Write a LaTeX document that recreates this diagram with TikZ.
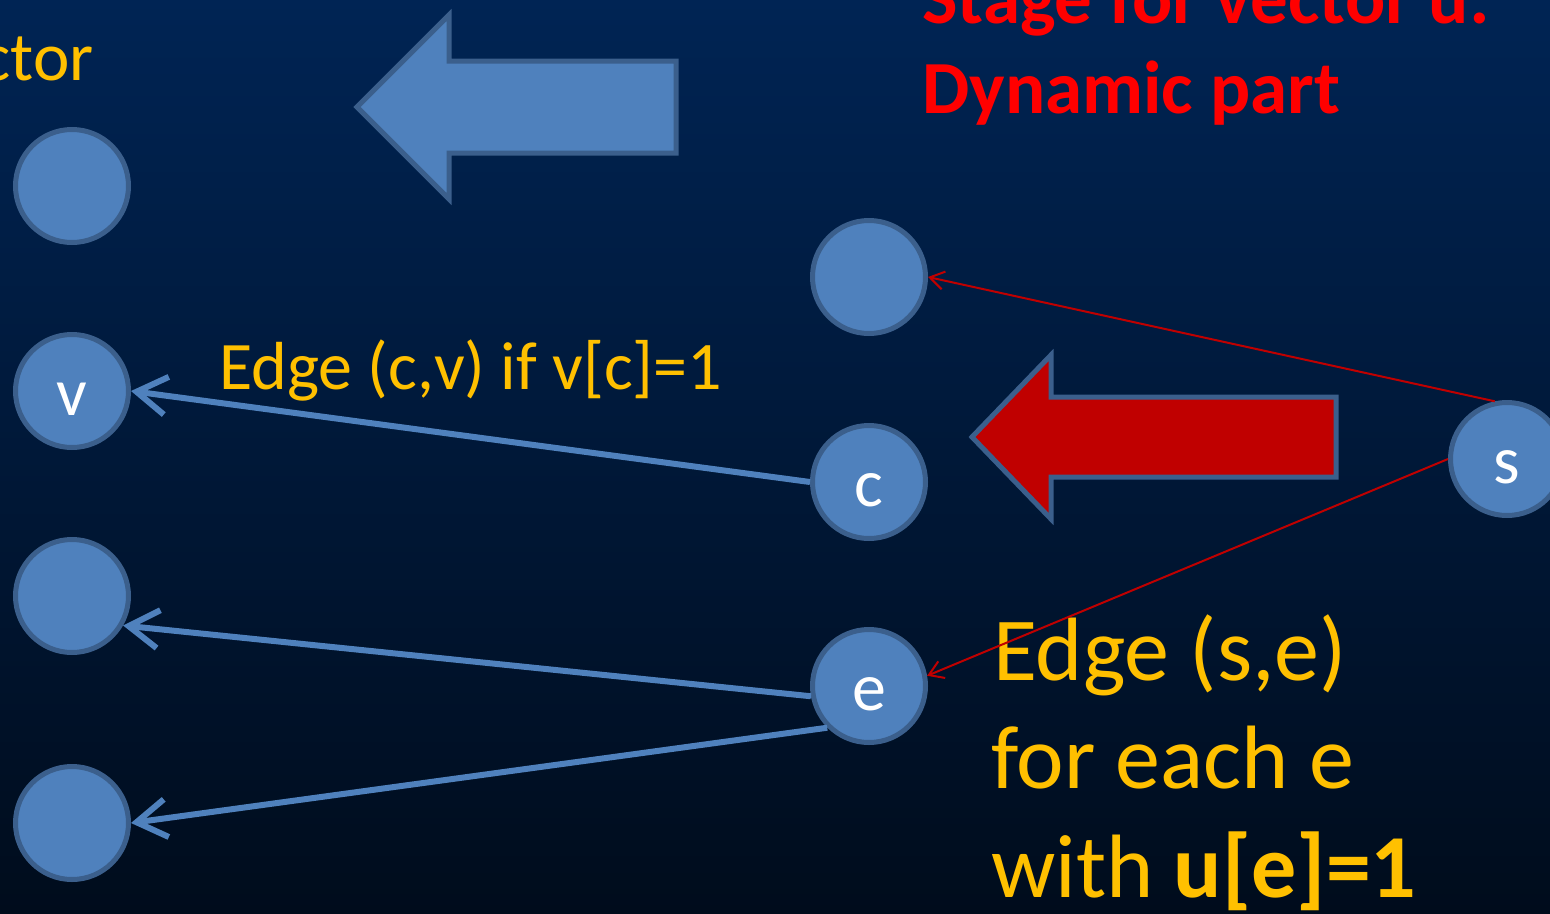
\documentclass[tikz,border=0pt]{standalone}
\usepackage{fontspec}
\setmainfont{Carlito}
\usetikzlibrary{arrows.meta}
\definecolor{bgtop}{HTML}{002454}
\definecolor{bgmid}{HTML}{001A3C}
\definecolor{bgbot}{HTML}{000C1C}
\definecolor{nodefill}{HTML}{4F81BD}
\definecolor{nodeline}{HTML}{3B5F8C}
\definecolor{darkred}{HTML}{C00000}
\definecolor{gold}{HTML}{FFC000}
\tikzset{
  vert/.style={circle, fill=nodefill, draw=nodeline, line width=5pt,
    minimum size=113pt, inner sep=0pt, text=white,
    font=\fontsize{68}{80}\selectfont, text height=48pt, text depth=0pt},
  blueedge/.style={draw=nodefill, line width=6pt,
    -{Straight Barb[length=30pt,width=38pt]}},
  rededge/.style={draw=darkred, line width=2pt,
    -{Straight Barb[length=14pt,width=18pt]}},
  blockarrow/.style={draw=nodeline, line width=5pt, line join=miter},
  goldtext/.style={text=gold, inner sep=0pt},
}
\begin{document}
\begin{tikzpicture}[x=1pt,y=-1pt]
\useasboundingbox (0,0) rectangle (1550,913);
\clip (0,0) rectangle (1550,913);
\shade[top color=bgtop, middle color=bgmid, bottom color=bgbot] (0,0) rectangle (1550,913);

% block arrows
\filldraw[blockarrow, fill=nodefill] (357,107) -- (449,15) -- (449,61) -- (676,61) -- (676,153) -- (449,153) -- (449,199) -- cycle;
\filldraw[blockarrow, fill=darkred] (972,437) -- (1051,355) -- (1051,397) -- (1336,397) -- (1336,477) -- (1051,477) -- (1051,519) -- cycle;

% texts
\node[goldtext, anchor=base east, font=\fontsize{69}{80}\selectfont] (ctor) at (94,80) {ctor};
\node[text=red, inner sep=0pt, anchor=base west, font=\bfseries\fontsize{75}{90}\selectfont] (t1) at (922,23) {Stage for vector u:};
\node[text=red, inner sep=0pt, anchor=base west, font=\bfseries\fontsize{75}{90}\selectfont] (t2) at (922,113) {Dynamic part};
\node[goldtext, anchor=base west, font=\fontsize{68}{80}\selectfont] (lab1) at (219,389) {Edge (c,v) if v[c]=1};
\node[goldtext, anchor=base west, font=\fontsize{90}{108}\selectfont] (lab2a) at (993,680) {Edge (s,e)};
\node[goldtext, anchor=base west, font=\fontsize{90}{108}\selectfont] (lab2b) at (991,788) {for each e};
\node[goldtext, anchor=base west, font=\fontsize{90}{108}\selectfont] (lab2c) at (991,897) {with \textbf{u[e]=1}};

% nodes
\node[vert] (n1) at (72,186) {};
\node[vert] (v) at (72,391) {v};
\node[vert] (n3) at (72,596) {};
\node[vert] (n4) at (72,823) {};
\node[vert] (m1) at (869,277) {};
\node[vert] (c) at (869,482) {c};
\node[vert] (e) at (869,686) {e};
\node[vert] (s) at (1507,459) {s};

% connectors
\draw[blueedge] (c.west) -- (v.east);
\draw[blueedge] (e.190) -- (n3.-30);
\draw[blueedge] (e.225) -- (n4.east);
\draw[rededge] (s.102) -- (m1.east);
\draw[rededge] (s.west) -- (e.10);
\end{tikzpicture}
\end{document}
